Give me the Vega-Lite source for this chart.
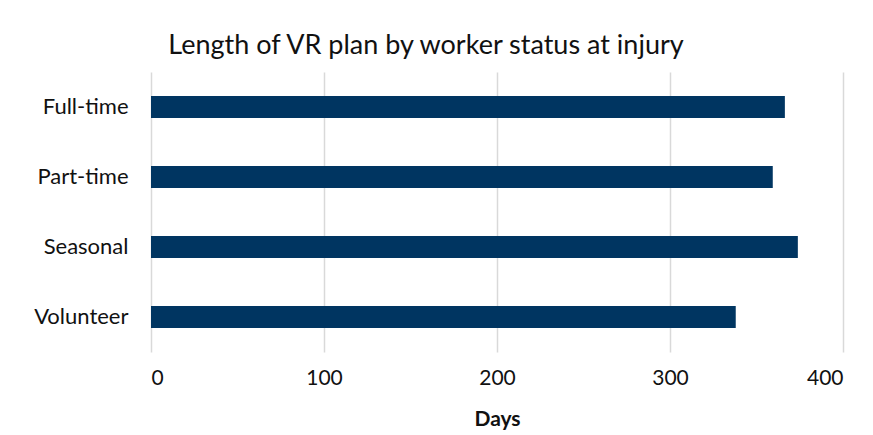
{
  "$schema": "https://vega.github.io/schema/vega-lite/v6.json",
  "width": 692,
  "height": 280,
  "autosize": {"type": "none"},
  "padding": {"left": 151, "top": 72, "right": 30, "bottom": 83},
  "background": "white",
  "config": {
    "view": {"stroke": null},
    "font": "Lato"
  },
  "title": {
    "text": "Length of VR plan by worker status at injury",
    "anchor": "middle",
    "dx": -71,
    "fontSize": 27,
    "fontWeight": "normal",
    "font": "Lato",
    "color": "#111111",
    "offset": 12
  },
  "data": {
    "values": [
      {"status": "Full-time", "days": 366.4},
      {"status": "Part-time", "days": 359.4},
      {"status": "Seasonal", "days": 373.9},
      {"status": "Volunteer", "days": 338}
    ]
  },
  "mark": {"type": "bar", "color": "#003561"},
  "encoding": {
    "y": {
      "field": "status",
      "type": "nominal",
      "sort": null,
      "scale": {"paddingInner": 0.686, "paddingOuter": 0.343},
      "axis": {
        "title": null,
        "domain": false,
        "ticks": false,
        "labelFontSize": 22,
        "labelColor": "#111111",
        "labelPadding": 23,
        "labelFont": "Lato"
      }
    },
    "x": {
      "field": "days",
      "type": "quantitative",
      "scale": {"domain": [0, 400]},
      "axis": {
        "title": "Days",
        "titleFontSize": 21,
        "titleFontWeight": "bold",
        "titleColor": "#111111",
        "titlePadding": 20,
        "values": [0, 100, 200, 300, 400],
        "domain": false,
        "ticks": false,
        "grid": true,
        "gridColor": "#d9d9d9",
        "gridWidth": 1.5,
        "labelFontSize": 21,
        "labelColor": "#111111",
        "labelPadding": 15,
        "labelFont": "Lato"
      }
    }
  }
}
